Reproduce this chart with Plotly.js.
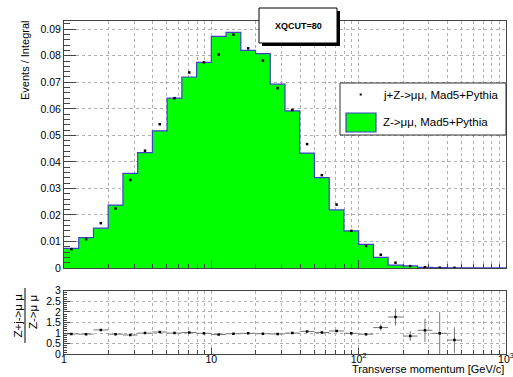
<!DOCTYPE html>
<html>
<head>
<meta charset="utf-8">
<script src="https://cdn.plot.ly/plotly-3.0.1.min.js"></script>
<style>html,body{margin:0;padding:0;background:#fff;}#chart{width:513px;height:377px;}</style>
</head>
<body>
<div id="chart"></div>
<script>
// Bin edges (GeV/c), log-spaced, 10 bins per decade
const binEdges = [1, 1.259, 1.585, 1.995, 2.512, 3.162, 3.981, 5.012, 6.310, 7.943,
  10, 12.59, 15.85, 19.95, 25.12, 31.62, 39.81, 50.12, 63.10, 79.43,
  100, 125.9, 158.5, 199.5, 251.2, 316.2, 398.1, 501.2, 631.0, 794.3, 1000];

// Z->mumu, Mad5+Pythia (filled histogram), Events / Integral
const zHist = [0.00743, 0.01145, 0.0150, 0.0237, 0.0357, 0.0435, 0.0517, 0.0640, 0.0720, 0.0775,
  0.0873, 0.0888, 0.0820, 0.0808, 0.0693, 0.0592, 0.0433, 0.0341, 0.0219, 0.0140,
  0.0089, 0.0040, 0.0011, 0.0008, 0.00025, 0.00012, 0.00009, 0.00005, 0.00003, 0.00002];

// j+Z->mumu, Mad5+Pythia (points)
const jzPoints = [0.0071, 0.0108, 0.0169, 0.0224, 0.0332, 0.0442, 0.0542, 0.0640, 0.0737, 0.0775,
  0.0805, 0.0880, 0.0828, 0.0782, 0.0678, 0.0596, 0.0467, 0.0350, 0.0239, 0.0140,
  0.0083, 0.0050, 0.0020, 0.0007, 0.00028, 0.00012, 0.00006];

// Ratio (Z+j)/Z and its errors
const ratioVals = [0.96, 0.95, 1.15, 0.95, 0.91, 1.00, 1.05, 1.00, 1.03, 0.99,
  0.93, 0.97, 0.99, 0.97, 0.96, 1.00, 1.08, 1.03, 1.10, 0.99,
  0.95, 1.26, 1.76, 0.86, 1.13, 0.99, 0.67];
const ratioErr = [0.02, 0.02, 0.02, 0.015, 0.012, 0.01, 0.01, 0.01, 0.01, 0.01,
  0.01, 0.01, 0.01, 0.01, 0.01, 0.012, 0.015, 0.02, 0.03, 0.04,
  0.05, 0.15, 0.40, 0.23, 0.55, 1.00, 0.60];

const xTickVals = [1, 10, 100, 1000];
const xTickText = ['1', '10', '10<sup>2</sup>', '10<sup>3</sup>'];
const xMinorVals = [2,3,4,5,6,7,8,9,20,30,40,50,60,70,80,90,200,300,400,500,600,700,800,900];

const W = 513, H = 377;
const px = x => x / W;
const py = y => 1 - y / H;

// derived geometry from bins
const nPts = jzPoints.length;
const centers = [], errLo = [], errHi = [];
for (let i = 0; i < nPts; i++) {
  const c = Math.sqrt(binEdges[i] * binEdges[i + 1]);
  centers.push(c);
  errLo.push(c - binEdges[i]);
  errHi.push(binEdges[i + 1] - c);
}
const histY = zHist.concat([zHist[zHist.length - 1]]);

const FONT = 'Liberation Sans, Arial, Helvetica, sans-serif';
const gridCol = '#b0b0b0';
const axCol = '#444';

const traces = [
  {
    x: binEdges, y: histY, xaxis: 'x', yaxis: 'y',
    type: 'scatter', mode: 'lines', line: {shape: 'hv', color: '#4040cc', width: 1.2},
    fill: 'tozeroy', fillcolor: '#00ff00', name: 'Z->μμ, Mad5+Pythia', hoverinfo: 'skip'
  },
  {
    x: centers, y: jzPoints, xaxis: 'x', yaxis: 'y',
    type: 'scatter', mode: 'markers',
    marker: {symbol: 'square', size: 2.5, color: '#000'},
    name: 'j+Z->μμ, Mad5+Pythia'
  },
  {
    x: centers, y: ratioVals, xaxis: 'x2', yaxis: 'y2',
    type: 'scatter', mode: 'markers',
    marker: {symbol: 'square', size: 2.5, color: '#000'},
    error_x: {type: 'data', symmetric: false, array: errHi, arrayminus: errLo, width: 0, thickness: 1, color: '#777'},
    error_y: {type: 'data', array: ratioErr, width: 0, thickness: 1, color: '#777'},
    name: 'ratio'
  }
];

const xCommon = {
  type: 'log', range: [0, 3], domain: [px(64), px(506)],
  tickmode: 'array', tickvals: xTickVals,
  ticks: 'inside', tickcolor: axCol, tickwidth: 1,
  showgrid: true, gridcolor: gridCol, griddash: 'dot', gridwidth: 1,
  minor: {tickmode: 'array', tickvals: xMinorVals, ticks: 'inside', ticklen: 4, tickcolor: axCol,
          showgrid: true, gridcolor: gridCol, griddash: 'dot', gridwidth: 1},
  showline: true, mirror: true, linecolor: axCol, linewidth: 1, zeroline: false,
  fixedrange: true
};

const layout = {
  width: W, height: H,
  margin: {l: 0, r: 0, t: 0, b: 0},
  paper_bgcolor: '#fff', plot_bgcolor: '#fff',
  showlegend: false,
  font: {family: FONT, size: 10, color: '#000'},
  xaxis: Object.assign({}, xCommon, {anchor: 'y', showticklabels: false, ticklen: 8}),
  xaxis2: Object.assign({}, xCommon, {anchor: 'y2', ticktext: xTickText, showticklabels: true, ticklen: 6,
    ticklabelstandoff: -5, ticklabeloverflow: 'allow',
    tickfont: {family: FONT, size: 10.5, color: '#000'}}),
  yaxis: {
    domain: [py(268), py(21)], range: [0, 0.0931], anchor: 'x',
    tickmode: 'linear', tick0: 0, dtick: 0.01,
    ticks: 'inside', ticklen: 12, tickcolor: axCol,
    minor: {dtick: 0.002, ticks: 'inside', ticklen: 6, tickcolor: axCol, showgrid: false},
    showgrid: true, gridcolor: gridCol, griddash: 'dot',
    showline: true, mirror: true, linecolor: axCol, zeroline: false,
    tickfont: {family: FONT, size: 10.5, color: '#000'}, fixedrange: true
  },
  yaxis2: {
    domain: [py(354.3), py(290.7)], range: [0, 3], anchor: 'x2',
    tickmode: 'linear', tick0: 0, dtick: 0.5,
    ticks: 'inside', ticklen: 6, tickcolor: axCol,
    minor: {dtick: 0.1, ticks: 'inside', ticklen: 3, tickcolor: axCol, showgrid: false},
    showgrid: true, gridcolor: gridCol, griddash: 'dot',
    showline: true, mirror: true, linecolor: axCol, zeroline: false,
    tickfont: {family: FONT, size: 10.5, color: '#000'}, fixedrange: true
  },
  shapes: [
    // title box shadow and box
    {type: 'rect', xref: 'paper', yref: 'paper', x0: px(262), x1: px(340), y0: py(46), y1: py(11),
     fillcolor: '#000', line: {width: 0}, layer: 'above'},
    {type: 'rect', xref: 'paper', yref: 'paper', x0: px(259), x1: px(337), y0: py(43), y1: py(8),
     fillcolor: '#fff', line: {color: '#000', width: 1}, layer: 'above'},
    // legend box
    {type: 'rect', xref: 'paper', yref: 'paper', x0: px(340), x1: px(506), y0: py(135), y1: py(83),
     fillcolor: '#fff', line: {color: '#333', width: 1}, layer: 'above'},
    // legend marker for points
    {type: 'rect', xref: 'paper', yref: 'paper', x0: px(359.7), x1: px(361.7), y0: py(95.5), y1: py(93.5),
     fillcolor: '#000', line: {width: 0}, layer: 'above'},
    // legend swatch for histogram
    {type: 'rect', xref: 'paper', yref: 'paper', x0: px(346), x1: px(376), y0: py(132), y1: py(113),
     fillcolor: '#00ff00', line: {color: '#4040cc', width: 1.2}, layer: 'above'},
    // fraction bar of ratio y title
    {type: 'line', xref: 'paper', yref: 'paper', x0: px(25), x1: px(25), y0: py(343), y1: py(288),
     line: {color: '#000', width: 1}, layer: 'above'}
  ],
  annotations: [
    {xref: 'paper', yref: 'paper', x: px(298), y: py(25.5), xanchor: 'center', yanchor: 'middle',
     text: '<b>XQCUT=80</b>', showarrow: false, font: {family: FONT, size: 9, color: '#000'}},
    {xref: 'paper', yref: 'paper', x: px(381), y: py(95), xanchor: 'left', yanchor: 'middle',
     text: 'j+Z->μμ, Mad5+Pythia', showarrow: false, font: {family: FONT, size: 11.5, color: '#000'}},
    {xref: 'paper', yref: 'paper', x: px(381), y: py(122), xanchor: 'left', yanchor: 'middle',
     text: 'Z->μμ, Mad5+Pythia', showarrow: false, font: {family: FONT, size: 11.5, color: '#000'}},
    {xref: 'paper', yref: 'paper', x: px(25), y: py(18), xanchor: 'center', yanchor: 'top', textangle: -90,
     text: 'Events / Integral', showarrow: false, font: {family: FONT, size: 11, color: '#000'}},
    {xref: 'paper', yref: 'paper', x: px(17), y: py(293), xanchor: 'center', yanchor: 'top', textangle: -90,
     text: 'Z+j->μ μ', showarrow: false, font: {family: FONT, size: 11.5, color: '#000'}},
    {xref: 'paper', yref: 'paper', x: px(33), y: py(293), xanchor: 'center', yanchor: 'top', textangle: -90,
     text: 'Z->μ μ', showarrow: false, font: {family: FONT, size: 11.5, color: '#000'}},
    {xref: 'paper', yref: 'paper', x: px(506), y: 0, xanchor: 'right', yanchor: 'bottom',
     text: 'Transverse momentum [GeV/c]', showarrow: false, font: {family: FONT, size: 11, color: '#000'}}
  ]
};

Plotly.newPlot('chart', traces, layout, {displayModeBar: false, staticPlot: true});
</script>
</body>
</html>
